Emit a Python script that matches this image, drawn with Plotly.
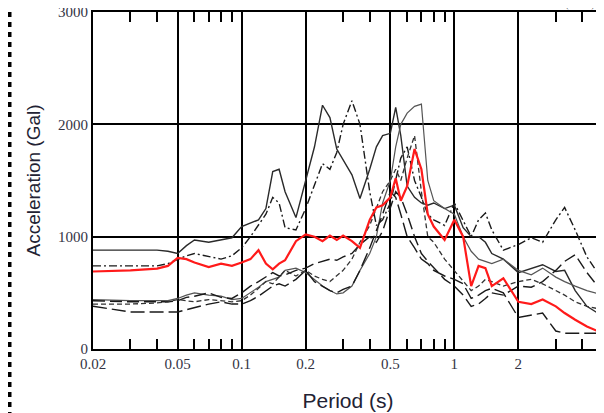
import math
import plotly.graph_objects as go

periods = [0.02, 0.03, 0.04, 0.045, 0.05, 0.055, 0.06, 0.07, 0.08, 0.09, 0.1, 0.11, 0.12, 0.13, 0.14,
           0.15, 0.16, 0.18, 0.2, 0.22, 0.24, 0.26, 0.28, 0.3, 0.33, 0.36, 0.4, 0.43, 0.46, 0.5,
           0.53, 0.56, 0.6, 0.65, 0.7, 0.75, 0.8, 0.9, 1.0, 1.1, 1.2, 1.3, 1.4, 1.5, 1.7, 2.0,
           2.3, 2.6, 3.0, 3.3, 3.7, 4.2, 5.0]

red_avg = [690, 700, 715, 740, 810, 800, 770, 730, 760, 740, 770, 800, 880, 760, 710,
           760, 790, 960, 1020, 1000, 960, 1010, 970, 1010, 960, 900, 1150, 1260, 1280, 1350,
           1520, 1320, 1450, 1780, 1600, 1200, 1090, 970, 1150, 1000, 560, 740, 720, 560, 630, 420,
           400, 440, 380, 320, 260, 200, 140]

k1_solid = [880, 880, 880, 870, 850, 920, 970, 950, 970, 990, 1090, 1120, 1150, 1250, 1580,
            1600, 1400, 1170, 1500, 1800, 2170, 2060, 1780, 1680, 1550, 1340, 1600, 1800, 1900, 1920,
            2150, 1900, 1450, 1350, 1300, 1280, 1300, 1250, 1280, 1080, 1000, 1000, 950, 850, 800, 680,
            720, 750, 690, 700, 520, 380, 290]

k2_dashdot = [740, 740, 740, 760, 800, 830, 850, 820, 800, 830, 900, 1000, 1100, 1200, 1350,
              1300, 1080, 1060, 1250, 1450, 1650, 1600, 1750, 2000, 2210, 2000, 1400, 1100, 1150, 1300,
              1500, 1700, 1800, 1500, 1350, 1200, 1150, 1100, 1300, 1150, 1000, 1150, 1210, 1060, 880, 930,
              990, 950, 1150, 1260, 1060, 820, 610]

k3_thin = [440, 430, 430, 430, 450, 480, 500, 480, 470, 440, 450, 500, 550, 600, 620,
           640, 700, 720, 680, 620, 560, 520, 490, 500, 560, 700, 850, 1000, 1300, 1500,
           1800, 2000, 2100, 2160, 2180, 1500, 1320, 1250, 1200, 1000, 870, 800, 780, 760, 800, 700,
           660, 720, 640, 600, 560, 520, 480]

k4_longdash = [430, 420, 420, 420, 430, 460, 470, 500, 460, 450, 500, 560, 600, 640, 680,
               650, 660, 700, 720, 760, 780, 800, 790, 820, 850, 930, 1000, 950, 1050, 1250,
               1400, 1350, 1200, 1000, 850, 780, 720, 620, 560, 480, 380, 400, 450, 500, 480, 560,
               550, 600, 700, 780, 840, 680, 500]

k5_bottom = [380, 330, 330, 330, 330, 350, 370, 400, 420, 400, 400, 430, 470, 520, 560,
             580, 560, 620, 700, 600, 560, 520, 500, 530, 560, 700, 900, 1050, 1200, 1400,
             1350, 1200, 1000, 900, 800, 760, 700, 650, 620, 580, 450, 480, 520, 540, 500, 280,
             300, 320, 160, 140, 140, 140, 140]

k6_dash = [400, 400, 410, 420, 440, 430, 420, 440, 430, 420, 430, 480, 540, 600, 580,
           640, 700, 650, 700, 650, 620, 600, 650, 700, 800, 950, 1100, 1250, 1400, 1500,
           1600, 1500, 1700, 1900, 1400, 1000, 950, 800, 700, 600, 520, 560, 620, 600, 560, 600,
           620, 580, 520, 480, 420, 380, 350]

x_tickvals = [0.02, 0.05, 0.1, 0.2, 0.5, 1, 2, 5]
x_ticktext = ["0.02", "0.05", "0.1", "0.2", "0.5", "1", "2", "5"]
x_minor = [0.03, 0.04, 0.06, 0.07, 0.08, 0.09, 0.3, 0.4, 0.6, 0.7, 0.8, 0.9, 3, 4]
y_tickvals = [0, 1000, 2000, 3000]

black_series = [
    ("k1", k1_solid, "solid", "#2a2a2a", 1.4),
    ("k2", k2_dashdot, "8px,3px,2px,3px", "#1a1a1a", 1.4),
    ("k3", k3_thin, "solid", "#555555", 1.2),
    ("k4", k4_longdash, "12px,5px", "#1a1a1a", 1.4),
    ("k5", k5_bottom, "14px,5px", "#1a1a1a", 1.4),
    ("k6", k6_dash, "5px,3px", "#333333", 1.3),
]

fig = go.Figure()
for name, vals, dash, col, w in black_series:
    fig.add_trace(go.Scatter(x=periods, y=vals, mode="lines", name=name,
                             line=dict(color=col, width=w, dash=dash)))
fig.add_trace(go.Scatter(x=periods, y=red_avg, mode="lines", name="avg",
                         line=dict(color="#ff1a1a", width=2.2)))

tickfont = dict(family="Liberation Serif, Times New Roman, serif", size=15, color="#333344")

# page body adds an 8px offset, so margins are set to place the plot at the reference position
fig.update_layout(
    width=604, height=413,
    margin=dict(l=85, r=9, t=4, b=72, autoexpand=False),
    paper_bgcolor="white", plot_bgcolor="white",
    showlegend=False,
    xaxis=dict(
        type="log", range=[math.log10(0.02), math.log10(5)], autorange=False,
        automargin=False, ticklabeloverflow="allow",
        tickvals=x_tickvals, ticktext=x_ticktext,
        tickfont=tickfont, ticks="inside", ticklen=10, tickcolor="black", tickwidth=1.5,
        showgrid=True, gridcolor="black", gridwidth=1.6,
        showline=True, linecolor="black", linewidth=2, mirror="ticks",
        zeroline=False,
        minor=dict(tickvals=x_minor, ticks="inside", ticklen=10, tickcolor="black",
                   tickwidth=1.5, showgrid=False),
        title=dict(text="Period (s)", font=dict(family="Liberation Sans, Arial, sans-serif",
                                                 size=21, color="#222233"), standoff=22),
    ),
    yaxis=dict(
        range=[0, 3000], autorange=False, automargin=False, ticklabeloverflow="allow",
        tickvals=y_tickvals, tickfont=tickfont, ticks="",
        showgrid=True, gridcolor="black", gridwidth=1.6,
        showline=True, linecolor="black", linewidth=2, mirror=True,
        zeroline=False,
        title=dict(text="Acceleration (Gal)", font=dict(family="Liberation Sans, Arial, sans-serif",
                                                        size=19, color="#222233"), standoff=12),
    ),
)

fig.add_annotation(text="(h=0.05)", xref="paper", yref="paper", x=(588 - 85) / 510, y=1.0,
                   xanchor="right", yanchor="bottom", showarrow=False, yshift=0,
                   font=dict(family="Liberation Serif, serif", size=8, color="#334"))

fig.add_shape(type="line", xref="paper", yref="paper",
              x0=(1.5 - 85) / 510, x1=(1.5 - 85) / 510, y0=(341 + 6) / 337, y1=(341 - 413) / 337,
              line=dict(color="black", width=4, dash="5px,5px"))

fig.write_html("out.html")
